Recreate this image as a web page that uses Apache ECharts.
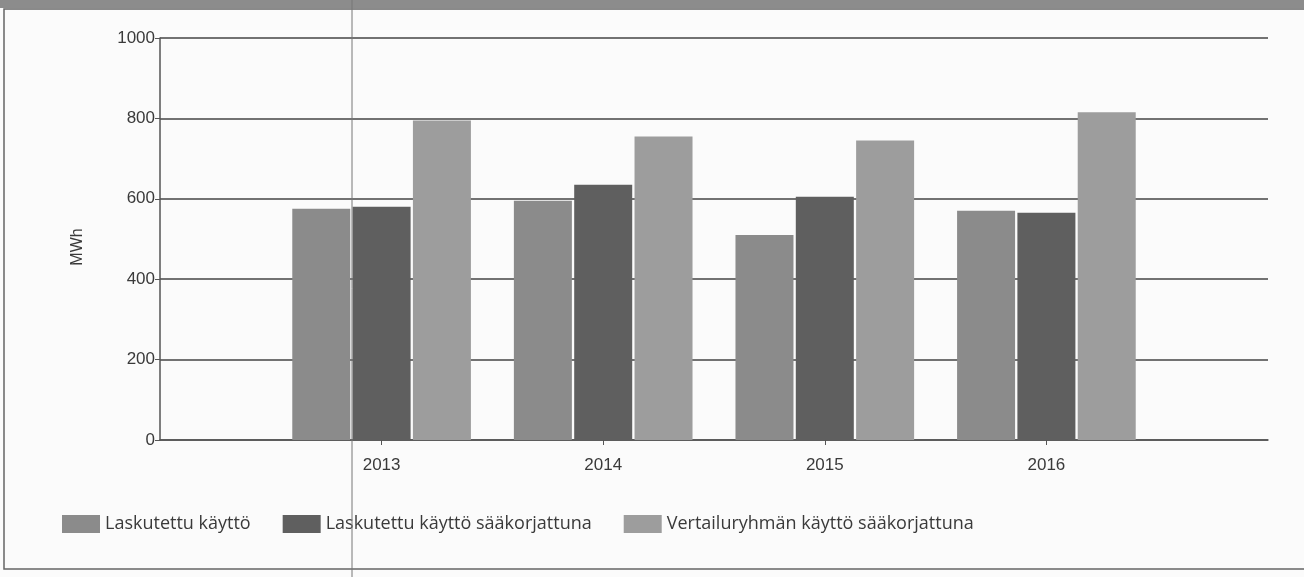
<!DOCTYPE html>
<html>
<head>
<meta charset="utf-8">
<script src="https://cdn.jsdelivr.net/npm/echarts@6/dist/echarts.min.js"></script>
<style>
html,body{margin:0;padding:0;background:#fbfbfb;}
#c{width:1304px;height:577px;}
</style>
</head>
<body>
<div id="c"></div>
<script>
const categories = ['', '2013', '2014', '2015', '2016', ''];
const seriesNames = ['Laskutettu käyttö', 'Laskutettu käyttö sääkorjattuna', 'Vertailuryhmän käyttö sääkorjattuna'];
const laskutettu = [null, 575, 595, 510, 570, null];
const laskutettuSaa = [null, 580, 635, 605, 565, null];
const vertailu = [null, 795, 755, 745, 815, null];
const yTicks = [0, 200, 400, 600, 800, 1000];

const chart = echarts.init(document.getElementById('c'), null, {renderer: 'canvas'});
const colors = ['#8b8b8b', '#5f5f5f', '#9d9d9d'];
const txt = '#3a3a3a';
const fontFam = 'Liberation Sans, Arial, sans-serif';

chart.setOption({
  backgroundColor: '#fbfbfb',
  animation: false,
  color: colors,
  grid: {left: 160, right: 36, top: 38, bottom: 137, containLabel: false},
  legend: {
    left: 57, top: 510,
    itemWidth: 38, itemHeight: 18, itemGap: 32,
    icon: 'rect',
    data: seriesNames,
    textStyle: {color: txt, fontSize: 18, fontFamily: 'Open Sans, sans-serif'}
  },
  xAxis: {
    type: 'category',
    data: categories,
    boundaryGap: false,
    axisLine: {lineStyle: {color: '#555', width: 1.5}},
    axisTick: {show: true, length: 5, lineStyle: {color: '#555'},
      interval: function (i, v) { return v !== ''; }},
    axisLabel: {color: txt, fontSize: 17, fontFamily: fontFam, margin: 17, interval: 0},
    splitLine: {show: false}
  },
  yAxis: {
    type: 'value',
    min: yTicks[0], max: yTicks[yTicks.length - 1], interval: 200,
    name: 'MWh',
    nameLocation: 'middle',
    nameGap: 74,
    nameTextStyle: {color: txt, fontSize: 16, fontFamily: fontFam, padding: [0, 16, 0, 0]},
    axisLine: {show: true, lineStyle: {color: '#555', width: 1.5}},
    axisTick: {show: true, length: 5, lineStyle: {color: '#555'}},
    axisLabel: {color: txt, fontSize: 17, fontFamily: fontFam, margin: 5,
      formatter: function (v) { return String(v); }},
    splitLine: {show: true, lineStyle: {color: '#444', width: 1.5}}
  },
  series: [
    {name: seriesNames[0], type: 'bar', data: laskutettu, barWidth: 58, barGap: '4%',
     itemStyle: {color: colors[0]}},
    {name: seriesNames[1], type: 'bar', data: laskutettuSaa, barWidth: 58, barGap: '4%',
     itemStyle: {color: colors[1]}},
    {name: seriesNames[2], type: 'bar', data: vertailu, barWidth: 58, barGap: '4%',
     itemStyle: {color: colors[2]}}
  ],
  graphic: [
    {type: 'rect', shape: {x: 0, y: 0, width: 1304, height: 8}, style: {fill: '#8c8c8c'}, silent: true},
    {type: 'rect', shape: {x: 4, y: 9, width: 1310, height: 560}, style: {fill: 'none', stroke: '#666', lineWidth: 1.5}, silent: true},
    {type: 'line', shape: {x1: 352, y1: 0, x2: 352, y2: 577}, style: {stroke: '#777', lineWidth: 1}, silent: true, z: 100}
  ]
});
</script>
</body>
</html>
